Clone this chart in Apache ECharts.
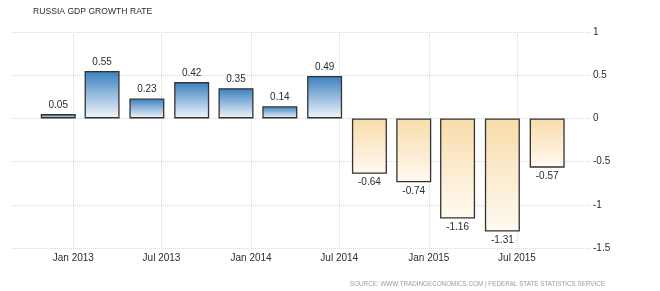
<!DOCTYPE html>
<html><head><meta charset="utf-8">
<script src="https://cdn.jsdelivr.net/npm/echarts@6/dist/echarts.min.js"></script>
<style>html,body{margin:0;padding:0;background:#fff}#c{width:660px;height:291px}</style>
</head><body><div id="c"></div>
<script>
const dates = ['2012-12-01','2013-03-01','2013-06-01','2013-09-01','2013-12-01','2014-03-01','2014-06-01','2014-09-01','2014-12-01','2015-03-01','2015-06-01','2015-09-01'];
const values = [0.05,0.55,0.23,0.42,0.35,0.14,0.49,-0.64,-0.74,-1.16,-1.31,-0.57];
const yTicks = [-1.5,-1,-0.5,0,0.5,1];
const monthNames = ['Jan','Feb','Mar','Apr','May','Jun','Jul','Aug','Sep','Oct','Nov','Dec'];
const titleText = 'RUSSIA GDP GROWTH RATE';
const sourceText = 'SOURCE: WWW.TRADINGECONOMICS.COM | FEDERAL STATE STATISTICS SERVICE';

const font = 'Liberation Sans, Arial, sans-serif';
const posColor = {type:'linear',x:0,y:0,x2:0,y2:1,colorStops:[{offset:0,color:'#3a7ebe'},{offset:1,color:'#f2f7fc'}]};
const negColor = {type:'linear',x:0,y:0,x2:0,y2:1,colorStops:[{offset:0,color:'#f8dcaa'},{offset:1,color:'#fffaf2'}]};

const data = dates.map((d,i)=>({
  value:[d, values[i]],
  itemStyle:{color: values[i]>=0?posColor:negColor},
  label:{position: values[i]>=0?'top':'bottom'}
}));

const chart = echarts.init(document.getElementById('c'));
const HALF = 182*86400000;
chart.setOption({
  animation:false,
  textStyle:{fontFamily:font},
  title:[
    {text:titleText,left:33,top:7,padding:0,textStyle:{fontSize:8.6,fontWeight:'normal',color:'#2a2a3a',fontFamily:font}},
    {text:sourceText,right:55,bottom:4,padding:0,textStyle:{fontSize:6.3,fontWeight:'normal',color:'#9a9aaa',fontFamily:font}}
  ],
  grid:{left:13,right:70,top:32,bottom:43,containLabel:false},
  xAxis:{
    type:'time',
    min:'2012-10-05', max:'2015-10-23',
    minInterval:HALF, maxInterval:HALF,
    axisLine:{show:false}, axisTick:{show:false},
    splitLine:{show:true,showMinLine:false,showMaxLine:false,lineStyle:{color:'#d8d8d8',type:'dotted'}},
    axisLabel:{color:'#2a2a3a',fontSize:10,margin:5,hideOverlap:false,showMinLabel:false,showMaxLabel:false,
      formatter:function(v){const d=new Date(v);return monthNames[d.getMonth()]+' '+d.getFullYear();}}
  },
  yAxis:{
    type:'value', position:'right', min:-1.5, max:1, interval:0.5,
    axisLine:{show:false}, axisTick:{show:false},
    splitLine:{show:true,lineStyle:{color:'#d8d8d8',type:'dotted'}},
    axisLabel:{color:'#2a2a3a',fontSize:10,margin:3,
      formatter:function(v){return yTicks.indexOf(v)>=0?String(v):'';}}
  },
  series:[{
    type:'bar', barWidth:35, data:data,
    itemStyle:{borderColor:'#333',borderWidth:1.3},
    label:{show:true,color:'#2a2a3a',fontSize:10,distance:4,
      formatter:function(p){return p.value[1].toFixed(2);}}
  }]
});
</script></body></html>
